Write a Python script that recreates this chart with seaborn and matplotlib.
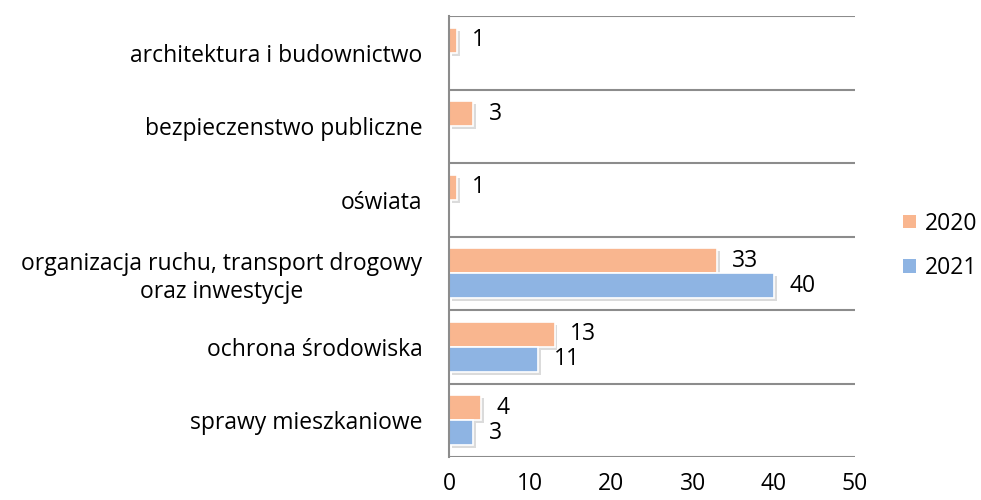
import pandas as pd
import matplotlib
matplotlib.use("Agg")
import matplotlib.pyplot as plt
import matplotlib.patheffects as pe
import seaborn as sns

# Data
categories = [
    "architektura i budownictwo",
    "bezpieczenstwo publiczne",
    "oświata",
    "organizacja ruchu, transport drogowy\noraz inwestycje",
    "ochrona środowiska",
    "sprawy mieszkaniowe",
]
values_2020 = [1, 3, 1, 33, 13, 4]
values_2021 = [0, 0, 0, 40, 11, 3]
years = ["2020", "2021"]
x_ticks = [0, 10, 20, 30, 40, 50]

df = pd.DataFrame({
    "kategoria": categories * 2,
    "rok": [years[0]] * len(categories) + [years[1]] * len(categories),
    "liczba": values_2020 + values_2021,
})

sns.set_style("white")
plt.rcParams["font.family"] = ["Open Sans", "DejaVu Sans"]
plt.rcParams["text.color"] = "black"

colors = {"2020": "#F9B68F", "2021": "#8EB4E3"}
grid_color = "#8C8C8C"
fs = 16.5

fig = plt.figure(figsize=(9.81, 5.0), dpi=100)
ax = fig.add_axes([449 / 981, 43 / 500, 406 / 981, 441 / 500])

sns.barplot(data=df, y="kategoria", x="liczba", hue="rok", order=categories,
            hue_order=years, palette=colors, orient="h", width=0.68,
            edgecolor="white", linewidth=1.2, saturation=1, ax=ax, legend=False)

shadow = [pe.SimplePatchShadow(offset=(2, -2), shadow_rgbFace="#8a8a8a", alpha=0.3),
          pe.Normal()]
for patch in ax.patches:
    patch.set_path_effects(shadow)

for cont in ax.containers:
    labels = [f"{v:.0f}" if v > 0 else "" for v in cont.datavalues]
    ax.bar_label(cont, labels=labels, padding=11, fontsize=fs, color="black")

ax.set_xlim(0, 50)
ax.set_ylim(len(categories) - 0.5, -0.5)
ax.set_xticks(x_ticks)
ax.set_xlabel("")
ax.set_ylabel("")

# category separators
for b in range(len(categories) + 1):
    ax.axhline(b - 0.5, color=grid_color, linewidth=1.5, zorder=0)

for side in ["top", "right", "bottom"]:
    ax.spines[side].set_visible(False)
ax.spines["left"].set_color(grid_color)
ax.spines["left"].set_linewidth(1.5)

ax.tick_params(axis="x", length=0, pad=11, labelsize=fs, labelcolor="black")
ax.tick_params(axis="y", length=0, pad=19, labelsize=fs, labelcolor="black")
for lab in ax.get_yticklabels():
    lab.set_multialignment("center")

handles = [plt.Rectangle((0, 0), 1, 1, facecolor=colors[y], edgecolor="none") for y in years]
fig.legend(handles, years, loc="center left", bbox_to_anchor=(903 / 981, 1 - 246 / 500),
           frameon=False, fontsize=fs, handlelength=0.55, handleheight=0.55,
           handletextpad=0.4, labelspacing=0.9, borderpad=0, borderaxespad=0,
           labelcolor="black")

fig.savefig("out.png", dpi=100)
